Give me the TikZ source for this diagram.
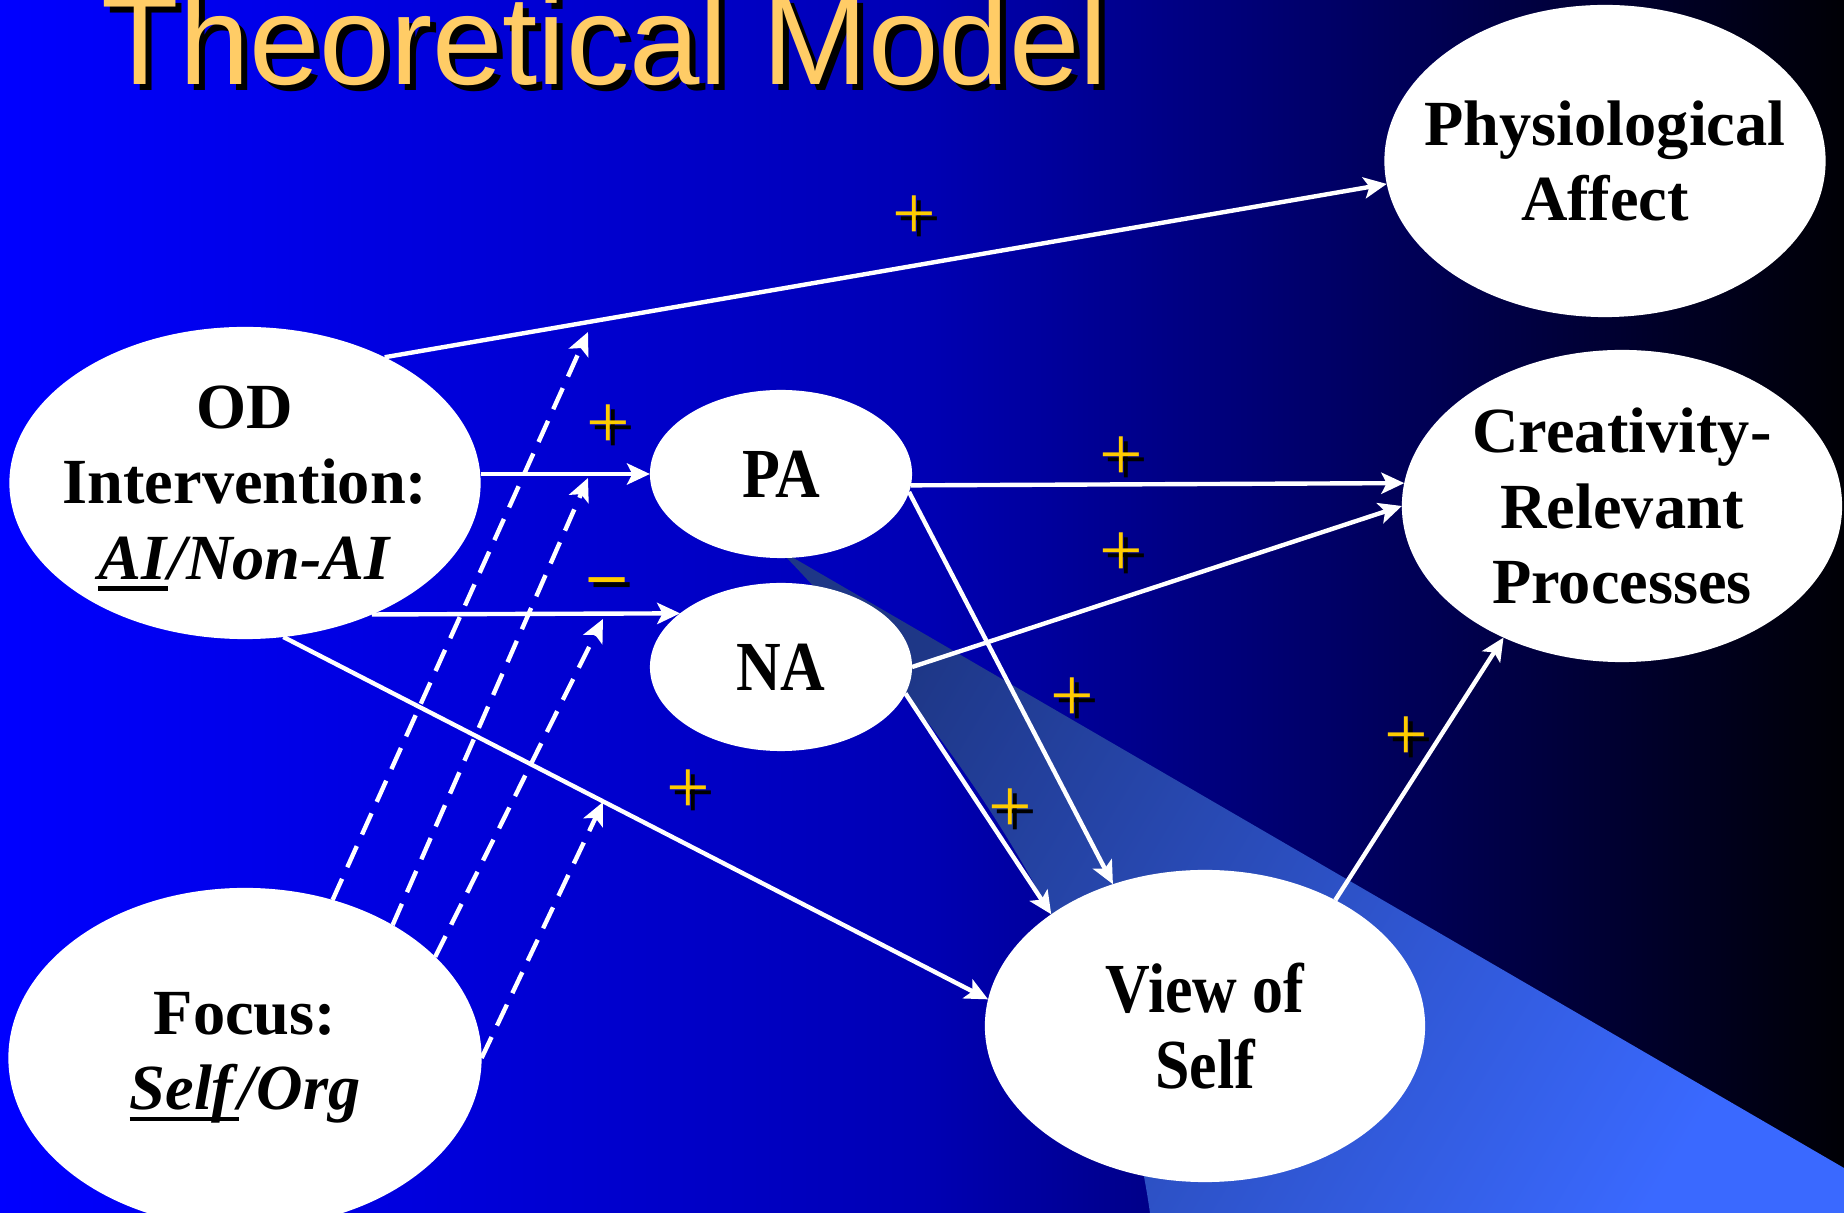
\documentclass[tikz,border=0pt]{standalone}
\usepackage{fontspec}
\setmainfont{Liberation Serif}
\newfontfamily\condfont[FakeStretch=0.88]{Liberation Serif}
\newfontfamily\titlefont{Liberation Sans}
\usetikzlibrary{shapes.geometric,arrows.meta}
\definecolor{titlegold}{RGB}{255,204,102}
\definecolor{signgold}{RGB}{255,204,0}
\definecolor{bgleft}{RGB}{0,0,255}
\definecolor{bgmid}{RGB}{0,0,180}
\definecolor{bgright}{RGB}{0,0,5}
\definecolor{beamtop}{RGB}{30,55,135}
\definecolor{beambot}{RGB}{58,105,255}
\newsavebox\ulbox
\newcommand\myul[1]{\sbox\ulbox{#1}\smash{\rlap{\rule[-0.18em]{\wd\ulbox}{0.075em}}}\usebox\ulbox}
\begin{document}
\begin{tikzpicture}[x=0.01cm, y=-0.01cm,
  ell/.style={ellipse, fill=white, inner xsep=-60pt, inner ysep=-60pt, outer sep=0pt, align=center, text=black},
  lbl/.style={font=\fontsize{18.3}{21.4}\selectfont\bfseries},
  clbl/.style={font=\condfont\fontsize{20}{21.4}\selectfont\bfseries},
  conn/.style={draw=white, line width=1.25pt, -{Stealth[length=6.5pt,width=6pt,inset=1.5pt]}},
  dconn/.style={conn, dash pattern=on 6.6pt off 3.6pt},
  signmark/.style={text=signgold, inner sep=0pt, font=\fontsize{22}{22}\selectfont},
  signshade/.style={text=black, inner sep=0pt, font=\fontsize{22}{22}\selectfont, xshift=0.05cm, yshift=-0.05cm},
  titletext/.style={anchor=base west, inner sep=0pt, font=\titlefont\fontsize{36}{36}\selectfont},
]
\clip (0,0) rectangle (1844,1213);
% background
\shade[left color=bgleft, right color=bgright, middle color=bgmid] (0,0) rectangle (1844,1213);
% light beam
\begin{scope}
\clip (785,553) -- (1844,1168) -- (1844,1213) -- (1150,1213) .. controls (1120,1000) and (1000,780) .. (785,556) -- cycle;
\shade[top color=beamtop, bottom color=beambot, shading angle=59] (785,553) rectangle (1844,1213);
\end{scope}

% nodes
\node[ell, lbl, minimum width=4.71cm, minimum height=3.12cm] (OD) at (245,483)
  {OD\\Intervention:\\\myul{\textit{AI}}\textit{/Non-AI}};
\node[ell, lbl, minimum width=4.73cm, minimum height=3.40cm] (Focus) at (245,1058)
  {Focus:\\\myul{\textit{Self}}\textit{/Org}};
\node[ell, clbl, minimum width=2.62cm, minimum height=1.68cm] (PA) at (781,474) {PA};
\node[ell, clbl, minimum width=2.62cm, minimum height=1.68cm] (NA) at (781,667) {NA};
\node[ell, clbl, minimum width=4.40cm, minimum height=3.12cm] (VS) at (1205,1026) {View of\\Self};
\node[ell, lbl, minimum width=4.41cm, minimum height=3.12cm] (PhA) at (1605,161) {Physiological\\Affect};
\node[ell, lbl, minimum width=4.40cm, minimum height=3.12cm] (CRP) at (1622,506) {Creativity-\\Relevant\\Processes};

% solid connectors
\draw[conn] (OD.42.6) -- (PhA.-174.5);
\draw[conn] (OD.east |- PA.west) -- (PA.west);
\draw[conn] (OD.-46.6) -- (NA.152.4);
\draw[conn] (OD.-76.4) -- (VS.173);
\draw[conn] (PA.-5.3) -- (CRP.174.8);
\draw[conn] (NA.east) -- (CRP.west);
\draw[conn] (PA.-8.95) -- (VS.123.5);
\draw[conn] (NA.-12.2) -- (VS.144.9);
\draw[conn] (VS.44.8) -- (CRP.-132.2);

% dashed moderator connectors
\coordinate (t1) at (588,332);
\coordinate (t2) at (588,478);
\coordinate (t3) at (603,619);
\coordinate (t4) at (603,802);
\draw[dconn] (Focus.61.2) -- (t1);
\draw[dconn] (Focus.42.8) -- (t2);
\draw[dconn] (Focus.28.2) -- (t3);
\draw[dconn] (Focus.0) -- (t4);

% signs
\node[signshade] (s1s) at (914,218) {+};  \node[signmark] (s1) at (914,218) {+};
\node[signshade] (s2s) at (608,427) {+};  \node[signmark] (s2) at (608,427) {+};
\node[signshade, font=\fontsize{20}{20}\selectfont\bfseries] (s3s) at (607,587) {\textendash};
\node[signmark, font=\fontsize{20}{20}\selectfont\bfseries] (s3) at (607,587) {\textendash};
\node[signshade] (s4s) at (1121,459) {+}; \node[signmark] (s4) at (1121,459) {+};
\node[signshade] (s5s) at (1121,555) {+}; \node[signmark] (s5) at (1121,555) {+};
\node[signshade] (s6s) at (1072,700) {+}; \node[signmark] (s6) at (1072,700) {+};
\node[signshade] (s7s) at (688,792) {+};  \node[signmark] (s7) at (688,792) {+};
\node[signshade] (s8s) at (1010,811) {+}; \node[signmark] (s8) at (1010,811) {+};
\node[signshade] (s9s) at (1406,739) {+}; \node[signmark] (s9) at (1406,739) {+};

% title
\node[titletext, text=black] (titleshadow) at (107,91) {Theoretical Model};
\node[titletext, text=titlegold] (title) at (101,85) {Theoretical Model};
\end{tikzpicture}
\end{document}
